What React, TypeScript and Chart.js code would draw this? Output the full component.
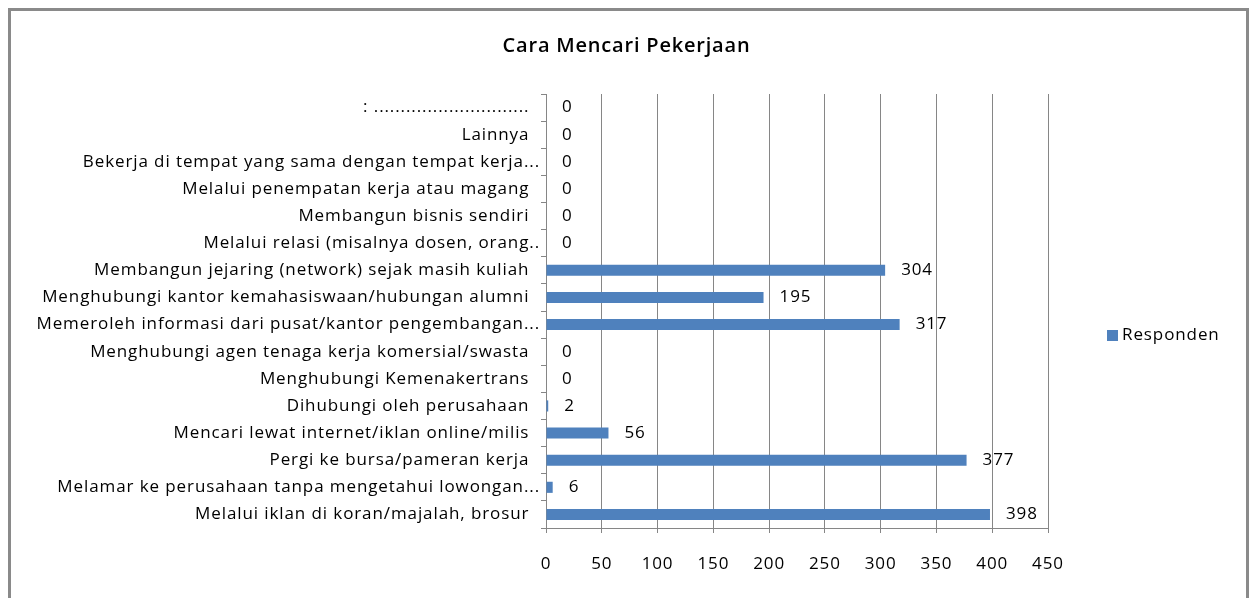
import React, { useEffect, useRef } from "react";
import { Chart, registerables } from "chart.js";

Chart.register(...registerables);

const chartTitle = "Cara Mencari Pekerjaan";
const seriesLabel = "Responden";

const categories = [
  ": .............................  ",
  "Lainnya  ",
  "Bekerja di tempat yang sama dengan tempat kerja...",
  "Melalui penempatan kerja atau magang  ",
  "Membangun bisnis sendiri  ",
  "Melalui relasi (misalnya dosen, orang..",
  "Membangun jejaring (network) sejak masih kuliah  ",
  "Menghubungi kantor kemahasiswaan/hubungan alumni  ",
  "Memeroleh informasi dari pusat/kantor pengembangan...",
  "Menghubungi agen tenaga kerja komersial/swasta  ",
  "Menghubungi Kemenakertrans  ",
  "Dihubungi oleh perusahaan  ",
  "Mencari lewat internet/iklan online/milis  ",
  "Pergi ke bursa/pameran kerja  ",
  "Melamar ke perusahaan tanpa mengetahui lowongan...",
  "Melalui iklan di koran/majalah, brosur  ",
];

const responden = [0, 0, 0, 0, 0, 0, 304, 195, 317, 0, 0, 2, 56, 377, 6, 398];

const xMin = 0;
const xMax = 450;
const xStep = 50;

const FONT = "'Open Sans', 'Noto Sans', sans-serif";
const FONT_SIZE = 17;
const LETTER_SPACING = "0.9px";
const BAR_COLOR = "#4F81BD";
const GRID_COLOR = "#868686";

const spacingPlugin = {
  id: "spacing",
  beforeLayout(chart: any) {
    chart.ctx.letterSpacing = LETTER_SPACING;
  },
  beforeDraw(chart: any) {
    chart.ctx.letterSpacing = LETTER_SPACING;
  },
};

const framePlugin = {
  id: "frame",
  beforeDraw(chart: any) {
    const { ctx, width, height } = chart;
    ctx.save();
    ctx.fillStyle = "#ffffff";
    ctx.fillRect(0, 0, width, height);
    ctx.strokeStyle = "#8a8a8a";
    ctx.lineWidth = 3;
    ctx.beginPath();
    ctx.moveTo(9.5, height + 10);
    ctx.lineTo(9.5, 9.5);
    ctx.lineTo(width - 5.5, 9.5);
    ctx.lineTo(width - 5.5, height + 10);
    ctx.stroke();
    ctx.restore();
  },
};

const titlePlugin = {
  id: "centeredTitle",
  afterDraw(chart: any) {
    const { ctx, width } = chart;
    ctx.save();
    ctx.letterSpacing = "0.8px";
    ctx.font = `600 20px ${FONT}`;
    ctx.fillStyle = "#000";
    ctx.textAlign = "center";
    ctx.textBaseline = "middle";
    ctx.fillText(chartTitle, width / 2, 46);
    ctx.restore();
  },
};

const valueLabelPlugin = {
  id: "valueLabels",
  afterDatasetsDraw(chart: any) {
    const { ctx } = chart;
    ctx.save();
    ctx.letterSpacing = LETTER_SPACING;
    ctx.font = `${FONT_SIZE}px ${FONT}`;
    ctx.fillStyle = "#000";
    ctx.textAlign = "left";
    ctx.textBaseline = "middle";
    chart.data.datasets.forEach((ds: any, di: number) => {
      const meta = chart.getDatasetMeta(di);
      meta.data.forEach((bar: any, i: number) => {
        ctx.fillText(String(ds.data[i]), bar.x + 16, bar.y);
      });
    });
    ctx.restore();
  },
};

const sideLegendPlugin = {
  id: "sideLegend",
  afterDraw(chart: any) {
    const { ctx, chartArea } = chart;
    const x = chartArea.right + 59;
    const y = 335;
    ctx.save();
    ctx.letterSpacing = LETTER_SPACING;
    ctx.fillStyle = BAR_COLOR;
    ctx.fillRect(x, y - 5, 11, 11);
    ctx.fillStyle = "#000";
    ctx.font = `${FONT_SIZE}px ${FONT}`;
    ctx.textAlign = "left";
    ctx.textBaseline = "middle";
    ctx.fillText(chart.data.datasets[0].label, x + 15, y);
    ctx.restore();
  },
};

export default function App() {
  const ref = useRef<HTMLCanvasElement | null>(null);

  useEffect(() => {
    document.body.style.margin = "0";
    if (!ref.current) return;
    const chart = new Chart(ref.current, {
      type: "bar",
      data: {
        labels: categories,
        datasets: [
          {
            label: seriesLabel,
            data: responden,
            backgroundColor: BAR_COLOR,
            borderWidth: 0,
            barPercentage: 0.82,
            categoryPercentage: 0.5,
          },
        ],
      },
      options: {
        indexAxis: "y",
        responsive: false,
        animation: false,
        layout: { padding: { left: 0, right: 205, top: 94, bottom: 0 } },
        plugins: {
          legend: { display: false },
          tooltip: { enabled: false },
          title: { display: false },
        },
        scales: {
          x: {
            type: "linear",
            min: xMin,
            max: xMax,
            ticks: {
              stepSize: xStep,
              color: "#000",
              font: { family: FONT, size: FONT_SIZE },
              padding: 21,
            },
            grid: {
              color: GRID_COLOR,
              tickLength: 5,
              drawTicks: true,
            },
            border: { display: true, color: GRID_COLOR },
            afterFit(scale: any) {
              scale.height = 70;
            },
          },
          y: {
            type: "category",
            ticks: {
              color: "#000",
              font: { family: FONT, size: FONT_SIZE },
              padding: 1,
              autoSkip: false,
            },
            grid: {
              color: GRID_COLOR,
              drawOnChartArea: false,
              tickLength: 5,
              offset: true,
            },
            border: { display: true, color: GRID_COLOR },
            afterFit(scale: any) {
              scale.width = 546;
            },
          },
        },
      },
      plugins: [spacingPlugin, framePlugin, titlePlugin, valueLabelPlugin, sideLegendPlugin],
    } as any);
    return () => chart.destroy();
  }, []);

  return (
    <div style={{ width: 1253, height: 598 }}>
      <canvas ref={ref} width={1253} height={598} />
    </div>
  );
}
